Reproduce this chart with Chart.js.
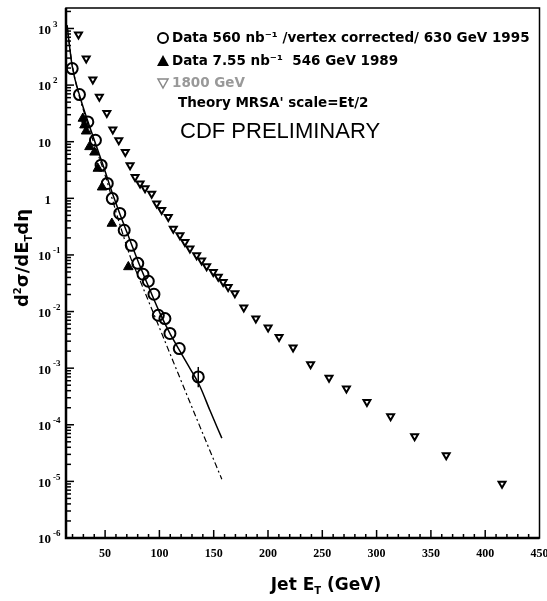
<!DOCTYPE html>
<html lang="en">
<head>
<meta charset="UTF-8">
<title>CDF inclusive jet cross section</title>
<script src="https://cdn.jsdelivr.net/npm/chart.js"></script>
<style>
  html, body { margin: 0; padding: 0; background: #fff; }
  .wrap { position: relative; width: 547px; height: 601px; }
</style>
</head>
<body>
<div class="wrap"><canvas id="jetChart"></canvas></div>
<script>
// 630 GeV, 1995 (open circles)
const et630 = [19.7, 26.4, 34.1, 41.1, 46.3, 52.0, 56.6, 63.5, 67.6, 74.1, 80.1, 84.9, 89.8, 95.0, 99.0, 105.1, 109.7, 118.3, 135.8];
const xs630 = [196, 68, 22.4, 10.6, 3.85, 1.83, 0.99, 0.54, 0.273, 0.148, 0.071, 0.0456, 0.0343, 0.0202, 0.0086, 0.0075, 0.0041, 0.00222, 0.0007];
// error bar ends (0 = none drawn)
const hi630 = [0, 0, 0, 0, 0, 0, 0, 0, 0, 0, 0, 0, 0, 0, 0, 0, 0, 0, 0.00105];
const lo630 = [0, 0, 0, 0, 0, 0, 0, 0, 0, 0, 0, 0, 0, 0, 0, 0, 0, 0, 0.00046];

// 546 GeV, 1989 (filled triangles)
const et546 = [29.5, 31.0, 32.5, 35.6, 40.2, 43.3, 47.2, 56.2, 71.4];
const xs546 = [25.7, 19.6, 15.3, 8.1, 6.5, 3.36, 1.57, 0.359, 0.0614];

// 1800 GeV (open down triangles)
const et1800 = [25.5, 32.6, 38.7, 44.7, 51.6, 57.1, 62.6, 68.6, 73.0, 77.6, 82.2, 86.8, 92.9, 97.5, 102.1, 108.2, 112.8, 118.9, 123.5, 128.1, 134.3, 138.9, 143.5, 149.6, 154.2, 158.7, 163.3, 169.5, 177.7, 188.8, 200.1, 210.2, 223.1, 239.2, 256.2, 272.2, 291.1, 312.9, 335.0, 364.1, 415.5];
const xs1800 = [783, 295, 126, 62, 32.3, 16.4, 10.6, 6.6, 3.85, 2.39, 1.82, 1.5, 1.2, 0.81, 0.62, 0.47, 0.29, 0.223, 0.17, 0.130, 0.099, 0.080, 0.063, 0.050, 0.041, 0.0333, 0.0272, 0.021, 0.0118, 0.0075, 0.0052, 0.00356, 0.00231, 0.00117, 0.00068, 0.000437, 0.000253, 0.000141, 6.3e-5, 2.9e-5, 9.1e-6];

// theory curves
const etThSolid = [15.0, 19.7, 27.0, 34.4, 41.7, 49.1, 56.4, 63.8, 73.0, 82.2, 91.4, 100.6, 109.7, 118.9, 128.1, 137.3, 146.5, 157.5];
const thSolid = [1143, 216, 61, 22, 8.7, 3.4, 1.28, 0.52, 0.18, 0.063, 0.0238, 0.0093, 0.0041, 0.0020, 0.000995, 0.00048, 0.00018, 5.8e-5];
const etThDash = [15.0, 19.7, 34.4, 49.1, 63.8, 73.0, 82.2, 97.5, 112.8, 128.1, 141.9, 157.5];
const thDash = [1100, 230, 19.5, 2.9, 0.335, 0.095, 0.0352, 0.0068, 0.0013, 2.5e-4, 5.7e-5, 1.09e-5];

const xTicks = [50, 100, 150, 200, 250, 300, 350, 400, 450];
const yExponents = [-6, -5, -4, -3, -2, -1, 0, 1, 2, 3];

const legendRows = [
  'Data 560 nb\u207B\u00B9 /vertex corrected/ 630 GeV 1995',
  'Data 7.55 nb\u207B\u00B9  546 GeV 1989',
  '1800 GeV',
  'Theory MRSA\' scale=Et/2'
];

function pts(xs, ys) { return xs.map((x, i) => ({ x: x, y: ys[i] })); }

const serif = '"Liberation Serif", "DejaVu Serif", serif';
const sans = '"DejaVu Sans", "Liberation Sans", sans-serif';

// vertical error bars for the circles
const errBars = {
  id: 'errBars',
  beforeDatasetsDraw(chart) {
    const ctx = chart.ctx, x = chart.scales.x, y = chart.scales.y;
    ctx.save();
    ctx.strokeStyle = '#000';
    ctx.lineWidth = 1.5;
    et630.forEach((e, i) => {
      if (!hi630[i]) return;
      const px = x.getPixelForValue(e);
      ctx.beginPath();
      ctx.moveTo(px, y.getPixelForValue(hi630[i]));
      ctx.lineTo(px, y.getPixelForValue(lo630[i]));
      ctx.stroke();
    });
    ctx.restore();
  }
};

// frame, inward ticks, y labels, titles, legend
const decor = {
  id: 'decor',
  afterDraw(chart) {
    const ctx = chart.ctx;
    const a = chart.chartArea;
    const x = chart.scales.x, y = chart.scales.y;
    ctx.save();
    ctx.strokeStyle = '#000';
    ctx.fillStyle = '#000';

    // frame
    ctx.lineWidth = 1.5;
    ctx.strokeRect(a.left, a.top, a.right - a.left, a.bottom - a.top);
    ctx.lineWidth = 2.5;
    ctx.beginPath();
    ctx.moveTo(a.left, a.top); ctx.lineTo(a.left, a.bottom); ctx.lineTo(a.right, a.bottom);
    ctx.stroke();

    // y ticks
    ctx.lineWidth = 1.5;
    yExponents.forEach(e => {
      for (let k = 1; k <= 9; k++) {
        const v = k * Math.pow(10, e);
        if (v < y.min || v > y.max) continue;
        const py = y.getPixelForValue(v);
        const len = k === 1 ? 8 : 5;
        ctx.beginPath(); ctx.moveTo(a.left, py); ctx.lineTo(a.left + len, py); ctx.stroke();
      }
    });
    // x ticks
    for (let v = 20; v < x.max; v += 10) {
      const px = x.getPixelForValue(v);
      const len = v % 50 === 0 ? 8 : 4;
      ctx.beginPath(); ctx.moveTo(px, a.bottom); ctx.lineTo(px, a.bottom - len); ctx.stroke();
    }

    // y labels 10^n
    yExponents.forEach(e => {
      const py = y.getPixelForValue(Math.pow(10, e));
      ctx.textBaseline = 'middle';
      ctx.textAlign = 'right';
      ctx.font = 'bold 13px ' + serif;
      ctx.fillText(e === 0 ? '1' : '10', 51, py + 2);
      if (e !== 0 && e !== 1) {
        ctx.textAlign = 'left';
        ctx.font = 'bold 9px ' + serif;
        ctx.fillText(String(e), 53, py - 4);
      }
    });

    // x title
    ctx.textBaseline = 'alphabetic';
    ctx.textAlign = 'left';
    const big = 'bold 17px "DejaVu Sans", sans-serif', small = 'bold 10px "DejaVu Sans", sans-serif';
    ctx.font = big;
    const w1 = ctx.measureText('Jet E').width, w3 = ctx.measureText(' (GeV)').width;
    ctx.font = small;
    const w2 = ctx.measureText('T').width;
    const sx = 326 - (w1 + w2 + w3) / 2;
    ctx.font = big; ctx.fillText('Jet E', sx, 590);
    ctx.font = small; ctx.fillText('T', sx + w1, 594);
    ctx.font = big; ctx.fillText(' (GeV)', sx + w1 + w2, 590);

    // y title, rotated
    ctx.save();
    ctx.translate(28, 258);
    ctx.rotate(-Math.PI / 2);
    const parts = [['d', 18, 0], ['2', 10, -7], ['\u03C3/dE', 18, 0], ['T', 10, 4], ['d\u03B7', 18, 0]];
    let tw = 0;
    parts.forEach(p => { ctx.font = 'bold ' + p[1] + 'px "DejaVu Sans", sans-serif'; tw += ctx.measureText(p[0]).width; });
    let cx = -tw / 2;
    parts.forEach(p => {
      ctx.font = 'bold ' + p[1] + 'px "DejaVu Sans", sans-serif';
      ctx.fillText(p[0], cx, p[2]);
      cx += ctx.measureText(p[0]).width;
    });
    ctx.restore();

    // legend
    const lx = 163, rows = [38, 61, 83, 103];
    ctx.lineWidth = 2;
    ctx.beginPath(); ctx.arc(lx, rows[0], 5, 0, Math.PI * 2); ctx.stroke();
    ctx.beginPath(); ctx.moveTo(lx, rows[1] - 6); ctx.lineTo(lx + 6, rows[1] + 5); ctx.lineTo(lx - 6, rows[1] + 5); ctx.closePath(); ctx.fill();
    ctx.strokeStyle = '#888'; ctx.lineWidth = 1.5;
    ctx.beginPath(); ctx.moveTo(lx, rows[2] + 5); ctx.lineTo(lx + 5, rows[2] - 4); ctx.lineTo(lx - 5, rows[2] - 4); ctx.closePath(); ctx.stroke();
    ctx.textBaseline = 'middle';
    ctx.textAlign = 'left';
    legendRows.forEach((s, i) => {
      ctx.font = 'bold 13.5px ' + sans;
      ctx.fillStyle = i === 2 ? '#999' : '#000';
      ctx.fillText(s, i === 3 ? 178 : 172, rows[i]);
    });
    ctx.fillStyle = '#000';
    ctx.font = '22px "Liberation Sans", Arial, sans-serif';
    ctx.fillText('CDF PRELIMINARY', 180, 132);
    ctx.restore();
  }
};

new Chart(document.getElementById('jetChart'), {
  type: 'scatter',
  data: {
    datasets: [
      {
        label: 'Data 560 nb-1 630 GeV 1995',
        data: pts(et630, xs630),
        pointStyle: 'circle', pointRadius: 5.5, borderWidth: 2,
        borderColor: '#000', backgroundColor: 'rgba(0,0,0,0)', order: 0
      },
      {
        label: 'Data 7.55 nb-1 546 GeV 1989',
        data: pts(et546, xs546),
        pointStyle: 'triangle', pointRadius: 5.5, borderWidth: 1,
        borderColor: '#000', backgroundColor: '#000', order: 0
      },
      {
        label: '1800 GeV',
        data: pts(et1800, xs1800),
        pointStyle: 'triangle', rotation: 180, pointRadius: 4, borderWidth: 2,
        borderColor: '#000', backgroundColor: 'rgba(0,0,0,0)', order: 0
      },
      {
        label: 'Theory',
        data: pts(etThSolid, thSolid),
        showLine: true, pointRadius: 0, borderWidth: 1.5, borderColor: '#000',
        cubicInterpolationMode: 'monotone', order: 1
      },
      {
        label: 'Theory (dash-dot)',
        data: pts(etThDash, thDash),
        showLine: true, pointRadius: 0, borderWidth: 1.2, borderColor: '#000',
        borderDash: [6, 3, 2, 3], cubicInterpolationMode: 'monotone', order: 1
      }
    ]
  },
  options: {
    responsive: true,
    maintainAspectRatio: false,
    animation: false,
    layout: { padding: { top: 8, right: 7, left: 0, bottom: 0 } },
    plugins: { legend: { display: false }, tooltip: { enabled: false } },
    scales: {
      x: {
        type: 'linear', min: 14, max: 450,
        grid: { display: false, drawTicks: false },
        border: { display: false },
        afterBuildTicks: axis => { axis.ticks = xTicks.map(v => ({ value: v })); },
        afterFit: scale => { scale.height = 63; scale.paddingLeft = 0; scale.paddingRight = 0; },
        ticks: {
          color: '#000', padding: 9, maxRotation: 0, autoSkip: false,
          font: { family: serif, size: 12, weight: 'bold' }
        }
      },
      y: {
        type: 'logarithmic', min: 1e-6, max: 2300,
        grid: { display: false, drawTicks: false },
        border: { display: false },
        ticks: { display: false },
        afterFit: scale => { scale.width = 66; scale.paddingTop = 0; scale.paddingBottom = 0; }
      }
    }
  },
  plugins: [errBars, decor]
});
</script>
</body>
</html>
